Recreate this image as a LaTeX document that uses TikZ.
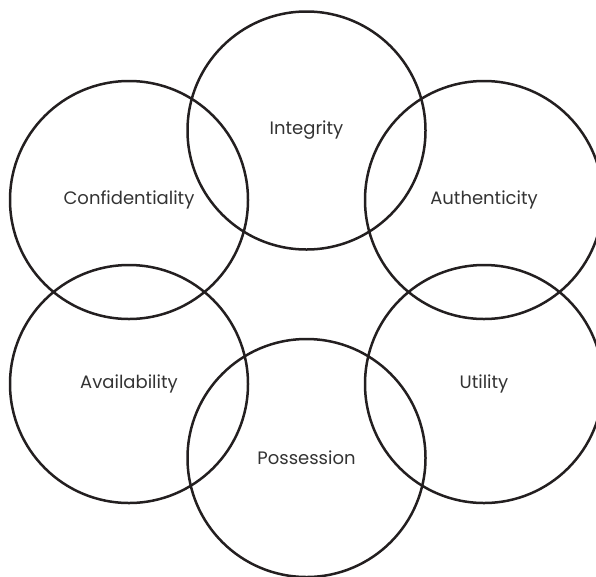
\documentclass[tikz,border=0pt]{standalone}
\usepackage{fontspec}
\setmainfont{Poppins}
\definecolor{inkline}{HTML}{231F20}
\definecolor{inktext}{HTML}{333333}
\tikzset{
	ring/.style={circle, draw=inkline, line width=2.5pt, minimum size=238pt, inner sep=0pt,
		text=inktext, font=\fontsize{18}{21}\selectfont}
}
\begin{document}
\begin{tikzpicture}[x=1pt, y=1pt]
	%\draw [step=50,lightgray, very thin] (0,-576) grid (596,0);
	\useasboundingbox (0,0) rectangle (596,-576);
	% top and bottom
	\node[ring] (integrity) at (306.5,-130.5) {Integrity};
	\node[ring] (possession) at (306.5,-458) {Possession};
	% left side
	\node[ring] (confidentiality) at (129,-200) {Confidentiality};
	\node[ring] (availability) at (129,-384) {Availability};
	% right side
	\node[ring] (authenticity) at (484,-200) {Authenticity};
	\node[ring] (utility) at (484,-384) {Utility};
\end{tikzpicture}
\end{document}
